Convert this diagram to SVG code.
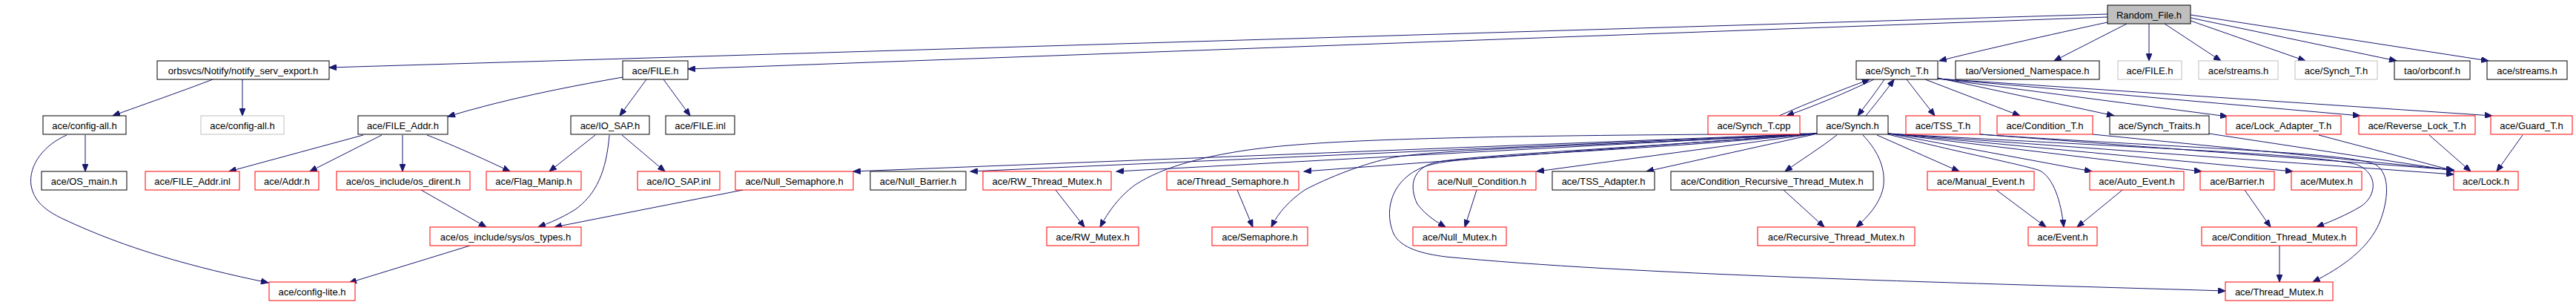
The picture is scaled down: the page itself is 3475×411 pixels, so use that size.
<svg xmlns="http://www.w3.org/2000/svg" width="3475" height="411" viewBox="0 0 3475 411">
<style>
rect{stroke-width:1;fill:#ffffff}
.b{stroke:#000000}
.r{stroke:#ff0000}
.g{stroke:#bfbfbf}
.root{stroke:#000000;fill:#bfbfbf}
text{font-family:"Liberation Sans",Arial,sans-serif;font-size:13px;fill:#000000;text-anchor:middle}
#edges path{fill:none;stroke:#191970;stroke-width:1;marker-end:url(#ah)}
</style>
<defs>
<marker id="ah" markerUnits="userSpaceOnUse" markerWidth="11" markerHeight="8" refX="10" refY="4" orient="auto">
<path d="M0,0 L10,4 L0,8 z" fill="#191970" stroke="#191970" stroke-width="1"/>
</marker>
</defs>
<rect x="0" y="0" width="3475" height="411" style="fill:#ffffff;stroke:none"/>
<g id="edges">
<path d="M2843,19 L444,91"/>
<path d="M2843,23 L928,93"/>
<path d="M2843,30 C2760,48 2680,66 2616,82"/>
<path d="M2869,32 L2771,82"/>
<path d="M2899,32 L2899,82"/>
<path d="M2920,32 L2996,82"/>
<path d="M2955,28 L3110,82"/>
<path d="M2955,24 L3233,82"/>
<path d="M2955,20 L3357,82"/>
<path d="M287,107 C240,125 190,142 152,156"/>
<path d="M327,107 L327,156"/>
<path d="M115,182 L115,231"/>
<path d="M90,182 C60,195 38,222 42,250 C46,272 62,284 85,295 C170,335 260,360 362,381"/>
<path d="M840,104 C760,118 680,134 604,157"/>
<path d="M872,107 L836,156"/>
<path d="M895,107 L931,156"/>
<path d="M490,182 L309,231"/>
<path d="M515,182 L418,231"/>
<path d="M543,182 L543,231"/>
<path d="M576,182 C592,188 640,208 688,231"/>
<path d="M803,182 L741,231"/>
<path d="M822,182 C818,230 805,262 775,283 C755,295 742,300 726,306"/>
<path d="M839,182 L897,231"/>
<path d="M568,256 L656,306"/>
<path d="M634,331 L471,381"/>
<path d="M1002,256 L748,306"/>
<path d="M2528,107 C2490,125 2450,142 2410,156"/>
<path d="M2400,156 C2440,138 2482,122 2522,107"/>
<path d="M2542,107 C2530,125 2518,140 2506,156"/>
<path d="M2517,156 C2530,140 2543,124 2555,107"/>
<path d="M2572,107 L2610,156"/>
<path d="M2597,107 L2725,156"/>
<path d="M2614,105 L2852,156"/>
<path d="M2614,106 L3005,157"/>
<path d="M2614,106 L3184,156"/>
<path d="M2614,106 L3362,156"/>
<path d="M2451,180 L1151,231"/>
<path d="M2451,180 L1309,231"/>
<path d="M2451,180 L1506,231"/>
<path d="M2451,180 L1759,231"/>
<path d="M2451,180 C2200,182 1900,183 1750,195 C1620,205 1560,230 1530,250 C1510,265 1495,285 1484,306"/>
<path d="M2451,180 C2200,195 1950,200 1880,212 C1840,220 1790,240 1760,256 C1740,270 1725,285 1715,306"/>
<path d="M2451,180 L2073,231"/>
<path d="M2452,180 L2221,231"/>
<path d="M2478,182 C2455,200 2430,215 2408,231"/>
<path d="M2451,180 C2200,200 2000,208 1940,218 C1905,225 1900,250 1912,275 C1925,292 1940,300 1950,306"/>
<path d="M2451,180 C2200,205 1980,208 1930,222 C1880,235 1865,280 1880,315 C1890,335 1920,342 1950,346 C2200,370 2600,380 3002,392"/>
<path d="M2513,182 C2535,205 2545,230 2540,255 C2535,275 2520,292 2504,306"/>
<path d="M2532,182 L2643,231"/>
<path d="M2547,181 C2640,205 2730,222 2752,230 C2770,240 2780,270 2784,306"/>
<path d="M2547,180 L2822,231"/>
<path d="M2547,180 L2970,231"/>
<path d="M2547,180 L3093,231"/>
<path d="M2547,180 L3310,235"/>
<path d="M2547,180 C2900,200 3130,208 3180,222 C3210,235 3205,265 3185,278 C3165,290 3145,298 3125,306"/>
<path d="M2671,181 C2950,200 3170,205 3205,222 C3225,235 3222,270 3210,300 C3195,335 3160,360 3120,380"/>
<path d="M2671,181 L3310,229"/>
<path d="M2823,181 L3310,229"/>
<path d="M2980,180 L3310,230"/>
<path d="M3128,182 L3310,230"/>
<path d="M3277,182 L3333,231"/>
<path d="M3403,182 L3368,231"/>
<path d="M1992,256 L1976,306"/>
<path d="M1424,256 L1463,306"/>
<path d="M1669,256 L1690,306"/>
<path d="M2693,256 L2760,306"/>
<path d="M2863,256 L2802,306"/>
<path d="M2406,256 L2461,306"/>
<path d="M3028,256 L3063,306"/>
<path d="M3075,331 L3075,380"/>
</g>
<g id="n0"><rect class="root" x="2843" y="7" width="112" height="25"/><text x="2899" y="25">Random_File.h</text></g>
<g id="n1"><rect class="b" x="212" y="82" width="232" height="25"/><text x="328" y="100">orbsvcs/Notify/notify_serv_export.h</text></g>
<g id="n2"><rect class="b" x="840" y="82" width="88" height="25"/><text x="884" y="100">ace/FILE.h</text></g>
<g id="n3"><rect class="b" x="2504" y="82" width="110" height="25"/><text x="2559" y="100">ace/Synch_T.h</text></g>
<g id="n4"><rect class="b" x="2638" y="82" width="194" height="25"/><text x="2735" y="100">tao/Versioned_Namespace.h</text></g>
<g id="n5"><rect class="g" x="2857" y="82" width="86" height="25"/><text x="2900" y="100">ace/FILE.h</text></g>
<g id="n6"><rect class="g" x="2966" y="82" width="107" height="25"/><text x="3019.5" y="100">ace/streams.h</text></g>
<g id="n7"><rect class="g" x="3096" y="82" width="111" height="25"/><text x="3151.5" y="100">ace/Synch_T.h</text></g>
<g id="n8"><rect class="b" x="3230" y="82" width="102" height="25"/><text x="3281" y="100">tao/orbconf.h</text></g>
<g id="n9"><rect class="b" x="3355" y="82" width="108" height="25"/><text x="3409" y="100">ace/streams.h</text></g>
<g id="n10"><rect class="b" x="58" y="156" width="112" height="25"/><text x="114" y="174">ace/config-all.h</text></g>
<g id="n11"><rect class="g" x="271" y="156" width="112" height="25"/><text x="327" y="174">ace/config-all.h</text></g>
<g id="n12"><rect class="b" x="483" y="156" width="121" height="25"/><text x="543.5" y="174">ace/FILE_Addr.h</text></g>
<g id="n13"><rect class="b" x="770" y="156" width="106" height="25"/><text x="823" y="174">ace/IO_SAP.h</text></g>
<g id="n14"><rect class="b" x="898" y="156" width="93" height="25"/><text x="944.5" y="174">ace/FILE.inl</text></g>
<g id="n15"><rect class="r" x="2304" y="156" width="124" height="25"/><text x="2366" y="174">ace/Synch_T.cpp</text></g>
<g id="n16"><rect class="b" x="2451" y="156" width="96" height="25"/><text x="2499" y="174">ace/Synch.h</text></g>
<g id="n17"><rect class="r" x="2571" y="156" width="100" height="25"/><text x="2621" y="174">ace/TSS_T.h</text></g>
<g id="n18"><rect class="r" x="2694" y="156" width="129" height="25"/><text x="2758.5" y="174">ace/Condition_T.h</text></g>
<g id="n19"><rect class="b" x="2846" y="156" width="134" height="25"/><text x="2913" y="174">ace/Synch_Traits.h</text></g>
<g id="n20"><rect class="r" x="3003" y="156" width="155" height="25"/><text x="3080.5" y="174">ace/Lock_Adapter_T.h</text></g>
<g id="n21"><rect class="r" x="3182" y="156" width="157" height="25"/><text x="3260.5" y="174">ace/Reverse_Lock_T.h</text></g>
<g id="n22"><rect class="r" x="3360" y="156" width="110" height="25"/><text x="3415" y="174">ace/Guard_T.h</text></g>
<g id="n23"><rect class="b" x="56" y="231" width="115" height="25"/><text x="113.5" y="249">ace/OS_main.h</text></g>
<g id="n24"><rect class="r" x="196" y="231" width="127" height="25"/><text x="259.5" y="249">ace/FILE_Addr.inl</text></g>
<g id="n25"><rect class="r" x="344" y="231" width="86" height="25"/><text x="387" y="249">ace/Addr.h</text></g>
<g id="n26"><rect class="r" x="454" y="231" width="180" height="25"/><text x="544" y="249">ace/os_include/os_dirent.h</text></g>
<g id="n27"><rect class="r" x="656" y="231" width="128" height="25"/><text x="720" y="249">ace/Flag_Manip.h</text></g>
<g id="n28"><rect class="r" x="860" y="231" width="111" height="25"/><text x="915.5" y="249">ace/IO_SAP.inl</text></g>
<g id="n29"><rect class="r" x="992" y="231" width="159" height="25"/><text x="1071.5" y="249">ace/Null_Semaphore.h</text></g>
<g id="n30"><rect class="b" x="1174" y="231" width="129" height="25"/><text x="1238.5" y="249">ace/Null_Barrier.h</text></g>
<g id="n31"><rect class="r" x="1326" y="231" width="173" height="25"/><text x="1412.5" y="249">ace/RW_Thread_Mutex.h</text></g>
<g id="n32"><rect class="r" x="1574" y="231" width="178" height="25"/><text x="1663" y="249">ace/Thread_Semaphore.h</text></g>
<g id="n33"><rect class="r" x="1926" y="231" width="146" height="25"/><text x="1999" y="249">ace/Null_Condition.h</text></g>
<g id="n34"><rect class="b" x="2094" y="231" width="138" height="25"/><text x="2163" y="249">ace/TSS_Adapter.h</text></g>
<g id="n35"><rect class="b" x="2254" y="231" width="273" height="25"/><text x="2390.5" y="249">ace/Condition_Recursive_Thread_Mutex.h</text></g>
<g id="n36"><rect class="r" x="2600" y="231" width="144" height="25"/><text x="2672" y="249">ace/Manual_Event.h</text></g>
<g id="n37"><rect class="r" x="2819" y="231" width="127" height="25"/><text x="2882.5" y="249">ace/Auto_Event.h</text></g>
<g id="n38"><rect class="r" x="2968" y="231" width="100" height="25"/><text x="3018" y="249">ace/Barrier.h</text></g>
<g id="n39"><rect class="r" x="3091" y="231" width="95" height="25"/><text x="3138.5" y="249">ace/Mutex.h</text></g>
<g id="n40"><rect class="r" x="3310" y="231" width="87" height="25"/><text x="3353.5" y="249">ace/Lock.h</text></g>
<g id="n41"><rect class="r" x="580" y="306" width="204" height="25"/><text x="682" y="324">ace/os_include/sys/os_types.h</text></g>
<g id="n42"><rect class="r" x="1412" y="306" width="124" height="25"/><text x="1474" y="324">ace/RW_Mutex.h</text></g>
<g id="n43"><rect class="r" x="1635" y="306" width="129" height="25"/><text x="1699.5" y="324">ace/Semaphore.h</text></g>
<g id="n44"><rect class="r" x="1906" y="306" width="126" height="25"/><text x="1969" y="324">ace/Null_Mutex.h</text></g>
<g id="n45"><rect class="r" x="2371" y="306" width="212" height="25"/><text x="2477" y="324">ace/Recursive_Thread_Mutex.h</text></g>
<g id="n46"><rect class="r" x="2736" y="306" width="93" height="25"/><text x="2782.5" y="324">ace/Event.h</text></g>
<g id="n47"><rect class="r" x="2970" y="306" width="209" height="25"/><text x="3074.5" y="324">ace/Condition_Thread_Mutex.h</text></g>
<g id="n48"><rect class="r" x="363" y="380" width="116" height="25"/><text x="421" y="398">ace/config-lite.h</text></g>
<g id="n49"><rect class="r" x="3002" y="380" width="145" height="25"/><text x="3074.5" y="398">ace/Thread_Mutex.h</text></g>
</svg>
